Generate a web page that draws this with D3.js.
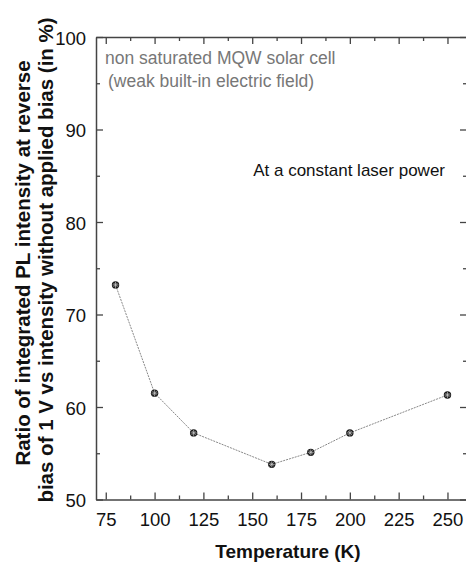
<!DOCTYPE html>
<html><head><meta charset="utf-8">
<script src="https://cdn.jsdelivr.net/npm/d3@7"></script>
<style>body{margin:0;background:#fff}svg{display:block}text{font-family:"Liberation Sans",Arial,sans-serif}</style>
</head><body>
<script>
const temperatures = [80, 100, 120, 160, 180, 200, 250];
const ratios = [73.2, 61.5, 57.2, 53.8, 55.1, 57.2, 61.3];
const xTicks = [75, 100, 125, 150, 175, 200, 225, 250];
const yTicks = [50, 60, 70, 80, 90, 100];
const W = 466, H = 566;
const L = 96, R = 467, T = 37, B = 499.5;
const svg = d3.select("body").append("svg").attr("width", W).attr("height", H);
const x = d3.scaleLinear().domain([70, 260]).range([L, R]);
const y = d3.scaleLinear().domain([50, 100]).range([B, T]);
const frameColor = "#444";
const xMinor = d3.range(87.5, 260, 25);
const yMinor = d3.range(55, 100, 10);

// bottom axis
const gB = svg.append("g").attr("transform", `translate(0,${B})`)
  .call(d3.axisBottom(x).tickValues(xTicks).tickSizeInner(-7).tickSizeOuter(0).tickPadding(13));
gB.selectAll("text").attr("font-size", 18.5).attr("fill", "#111");
svg.append("g").attr("transform", `translate(0,${B})`)
  .call(d3.axisBottom(x).tickValues(xMinor).tickSize(-4).tickFormat("")).select(".domain").remove();
// top axis
svg.append("g").attr("transform", `translate(0,${T})`)
  .call(d3.axisTop(x).tickValues(xTicks).tickSizeInner(-7).tickSizeOuter(0).tickFormat(""));
svg.append("g").attr("transform", `translate(0,${T})`)
  .call(d3.axisTop(x).tickValues(xMinor).tickSize(-4).tickFormat("")).select(".domain").remove();
// left axis
const gL = svg.append("g").attr("transform", `translate(${L},0)`)
  .call(d3.axisLeft(y).tickValues(yTicks).tickSizeInner(-7).tickSizeOuter(0).tickPadding(10));
gL.selectAll("text").attr("font-size", 18.5).attr("fill", "#111").attr("dy", "0.4em");
svg.append("g").attr("transform", `translate(${L},0)`)
  .call(d3.axisLeft(y).tickValues(yMinor).tickSize(-4).tickFormat("")).select(".domain").remove();
// right axis
svg.append("g").attr("transform", `translate(${R},0)`)
  .call(d3.axisRight(y).tickValues(yTicks).tickSizeInner(-7).tickSizeOuter(0).tickFormat(""));
svg.append("g").attr("transform", `translate(${R},0)`)
  .call(d3.axisRight(y).tickValues(yMinor).tickSize(-4).tickFormat("")).select(".domain").remove();
svg.selectAll(".domain").attr("stroke", frameColor).attr("stroke-width", 1.5);
svg.selectAll(".tick line").attr("stroke", frameColor).attr("stroke-width", 1.3);

// line
const pts = temperatures.map((t, i) => [t, ratios[i]]);
svg.append("path").datum(pts)
  .attr("d", d3.line().x(d => x(d[0])).y(d => y(d[1])))
  .attr("fill", "none").attr("stroke", "#888").attr("stroke-width", 1).attr("stroke-dasharray", "2,1");

// markers
const mk = svg.append("g").selectAll("g").data(pts).join("g")
  .attr("transform", d => `translate(${x(d[0])},${y(d[1])})`);
mk.append("circle").attr("r", 3.7).attr("fill", "#1a1a1a");
mk.append("path").attr("d", "M-3,0H3M0,-3V3M-2,-2L2,2M-2,2L2,-2")
  .attr("stroke", "#ccc").attr("stroke-width", 0.7);

// annotations
svg.append("text").attr("x", 105).attr("y", 64).attr("font-size", 17.5).attr("fill", "#777")
  .text("non saturated MQW solar cell");
svg.append("text").attr("x", 108).attr("y", 87).attr("font-size", 17.5).attr("fill", "#777")
  .text("(weak built-in electric field)");
svg.append("text").attr("x", 445).attr("y", 176).attr("font-size", 17).attr("fill", "#111")
  .attr("text-anchor", "end").text("At a constant laser power");

// axis titles
svg.append("text").attr("x", 288).attr("y", 558).attr("text-anchor", "middle")
  .attr("font-size", 19).attr("font-weight", "bold").attr("fill", "#111").text("Temperature (K)");
const yt = svg.append("text").attr("transform", "rotate(-90)")
  .attr("text-anchor", "middle").attr("font-size", 20.5).attr("font-weight", "bold").attr("fill", "#111");
yt.append("tspan").attr("x", -263).attr("y", 29.5).text("Ratio of integrated PL intensity at reverse");
yt.append("tspan").attr("x", -260).attr("y", 53).text("bias of 1 V vs intensity without applied bias (in %)");
</script>
</body></html>
